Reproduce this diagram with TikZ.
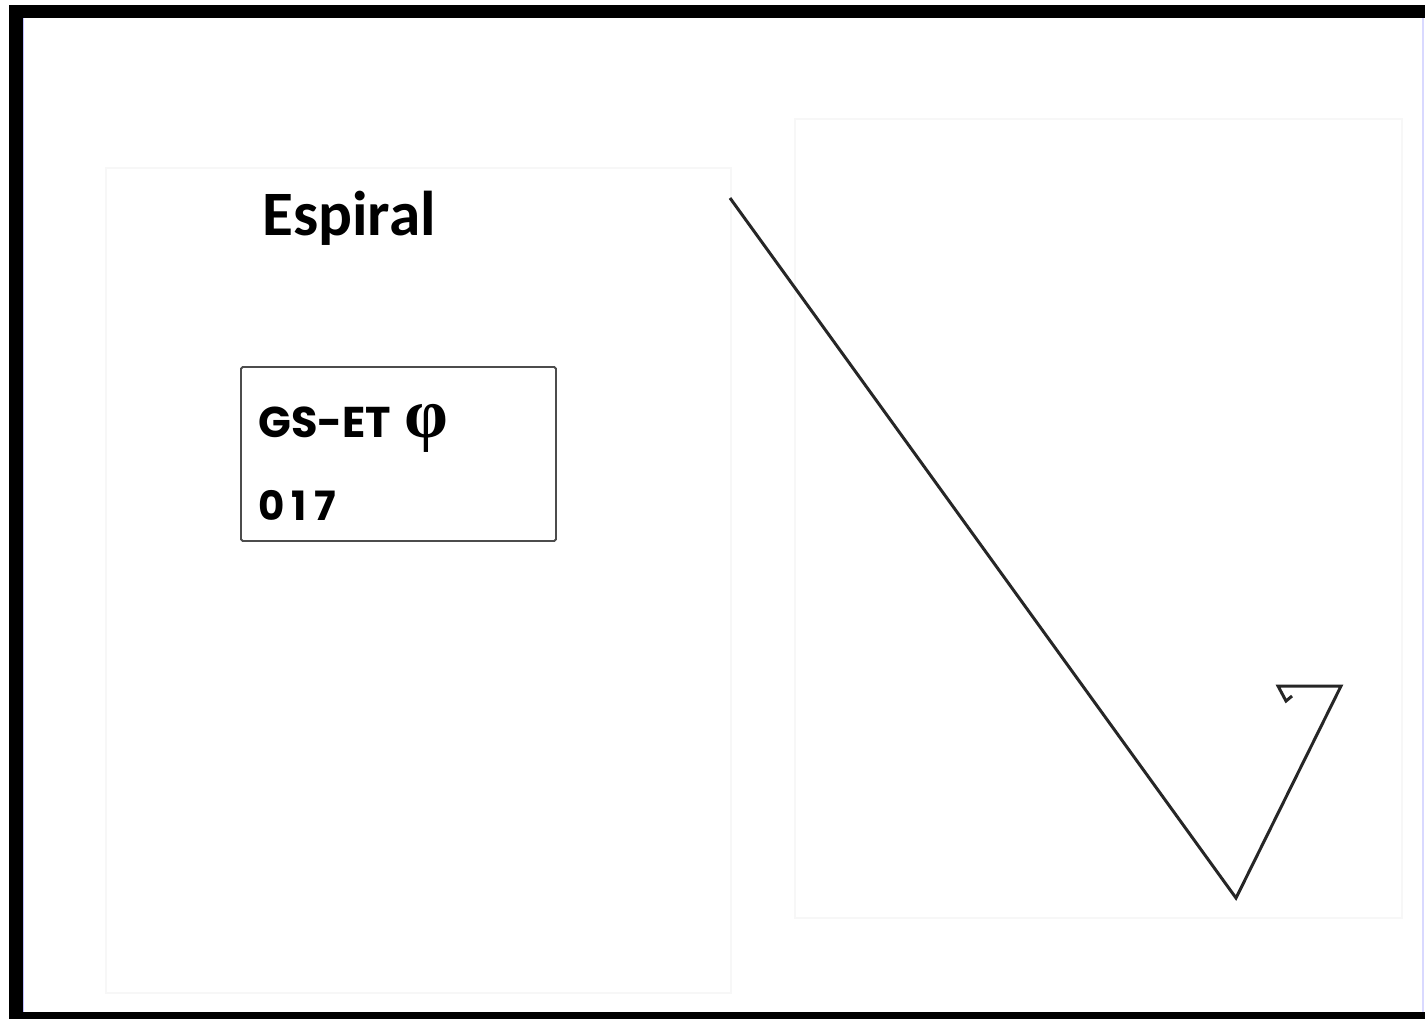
\documentclass[tikz,border=0pt]{standalone}
\usepackage{fontspec}
\setmainfont{Carlito}
\newfontfamily\geofont{Poppins}
\newfontfamily\greekfont{Liberation Serif}
\newfontfamily\spacedfont[LetterSpace=18]{Poppins}
\usetikzlibrary{positioning}

\tikzset{
  panel/.style={draw=black!3, line width=0.8pt},
  tagbox/.style={draw=black!70, line width=1.1pt, rounded corners=1pt},
  spiral/.style={draw=black!85, line width=1.7pt, line join=miter},
}

\begin{document}
\begin{tikzpicture}[x=0.02cm,y=-0.02cm]
\useasboundingbox (0,0) rectangle (1425,1019);
\fill[white] (0,0) rectangle (1425,1019);

% marco
\fill[black] (9,5) rectangle (1425,18);
\fill[black] (9,5) rectangle (23,1019);
\fill[black] (9,1012) rectangle (1425,1019);
\draw[blue!15, line width=0.8pt] (1423,18) -- (1423,1012);
\draw[blue!25, line width=0.5pt] (23.5,18) -- (23.5,1012);

% paneles
\draw[panel] (106,168) rectangle (731,993);
\draw[panel] (795,119) rectangle (1402,918);

% textos
\node[anchor=base west, inner sep=0, font=\bfseries\fontsize{36}{40}\selectfont] (titulo) at (262,235) {Espiral};
\node[tagbox, minimum width=315*0.02cm, minimum height=174*0.02cm, anchor=north west] (etiqueta) at (240,366) {};
\node[anchor=base west, inner sep=0, font=\geofont\bfseries\fontsize{24.5}{30}\selectfont] (codigo) at (258,437) {GS-ET\hspace{0.3em}{\greekfont\bfseries\fontsize{40}{40}\selectfont φ}};
\node[anchor=base west, inner sep=0, font=\spacedfont\bfseries\fontsize{23}{28}\selectfont] (numero) at (258,520) {017};

% espiral
\coordinate (p0) at (730,198);
\coordinate (p1) at (1236,898);
\coordinate (p2) at (1341,686);
\coordinate (p3) at (1278,686);
\coordinate (p4) at (1286,701);
\coordinate (p5) at (1292,696);
\draw[spiral] (p0) -- (p1) -- (p2) -- (p3) -- (p4) -- (p5);
\end{tikzpicture}
\end{document}
